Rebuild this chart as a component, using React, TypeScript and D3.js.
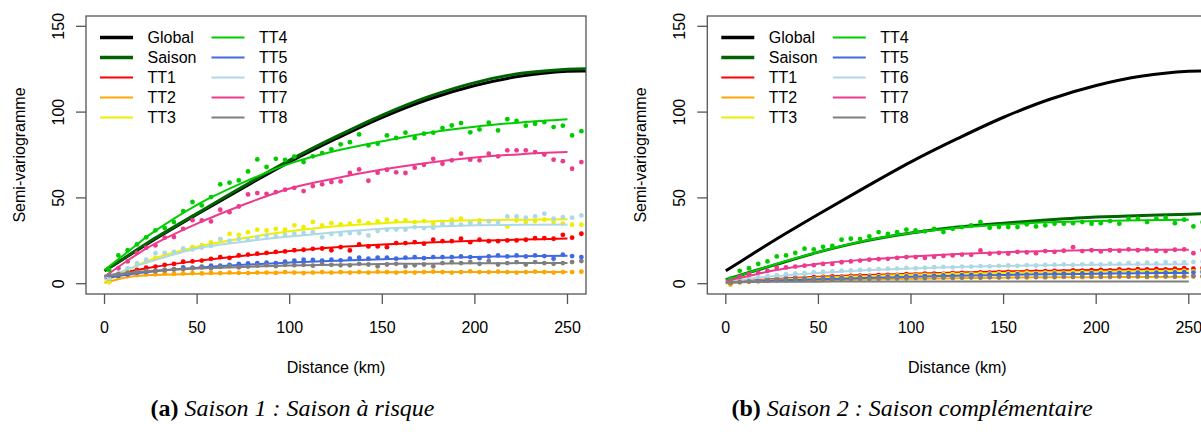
import React from 'react';
import * as d3 from 'd3';

// ---------- data ----------
const lags = [2.5, 7.5, 12.5, 17.5, 22.5, 27.5, 32.5, 37.5, 42.5, 47.5, 52.5, 57.5, 62.5, 67.5, 72.5, 77.5, 82.5, 87.5, 92.5, 97.5, 102.5, 107.5, 112.5, 117.5, 122.5, 127.5, 132.5, 137.5, 142.5, 147.5, 152.5, 157.5, 162.5, 167.5, 172.5, 177.5, 182.5, 187.5, 192.5, 197.5, 202.5, 207.5, 212.5, 217.5, 222.5, 227.5, 232.5, 237.5, 242.5, 247.5, 252.5, 257.5];
const fitX = [0, 12.5, 25, 50, 75, 100, 125, 150, 175, 200, 225, 250];
const fitXLong = [0, 12.5, 25, 50, 75, 100, 125, 150, 175, 200, 225, 250, 260];

const globalFit = [7.5, 16, 24.5, 40.5, 56, 71, 84.5, 97, 107.5, 115.5, 121, 123.8, 124];
const saisonFitA = [7.5, 16.2, 25, 41, 56.8, 72, 85.7, 98.3, 109, 117.2, 122.6, 125, 125.3];
const saisonFitB = [2.3, 6.5, 10.5, 18.4, 24.8, 29.5, 33, 35.3, 37.2, 38.8, 39.8, 40.5, 40.8];

const ttNames = ['TT1', 'TT2', 'TT3', 'TT4', 'TT5', 'TT6', 'TT7', 'TT8'];
const ttColors = ['#FF0000', '#FFA500', '#EEEE00', '#00CD00', '#4169E1', '#ADD8E6', '#EE3A8C', '#7F7F7F'];

// Panel (a) – Saison 1
const aFitTT1 = [4, 7, 9.5, 13.3, 16.3, 19, 21.2, 22.8, 24, 25, 25.7, 26.3];
const aFitTT2 = [0.5, 3.8, 5, 5.8, 6.2, 6.5, 6.6, 6.7, 6.8, 6.8, 6.8, 6.8];
const aFitTT3 = [1, 8, 14, 21.5, 26.5, 30.5, 33.5, 35.3, 36.3, 37, 37.3, 37.5];
const aFitTT4 = [8, 18.5, 29, 46, 59, 70, 77.5, 83, 88, 91.5, 94, 95.8];
const aFitTT5 = [3, 5.3, 7, 9.3, 11, 12.3, 13.4, 14.3, 15, 15.6, 16, 16.3];
const aFitTT6 = [3.5, 8.5, 13, 20.5, 24.5, 27.5, 30, 32, 33.2, 34, 34.3, 34.5];
const aFitTT7 = [4, 13.5, 22, 35, 46, 55.5, 61.5, 66.5, 70.5, 73.5, 75.5, 76.7];
const aFitTT8 = [4.8, 6.3, 7.4, 8.8, 9.8, 10.6, 11.1, 11.5, 11.7, 11.9, 12, 12];

const aPtsTT1 = [4, 5, 6.5, 8, 9.3, 10, 11, 11.5, 12.8, 13, 13.5, 14.5, 15.5, 15, 16.5, 17, 17.5, 18, 18.5, 18.8, 19.5, 19.8, 20.3, 20.5, 19.5,
  21.3, 19.4, 22.9, 21.7, 21.7, 21.3, 23.7, 23.7, 24.2, 23.3, 25.6, 24.8, 24.8, 26.2, 24.2, 25.6, 24.8, 24.8, 25.2, 25.2, 25.6, 26.6, 26.6, 26.2, 28.5, 26.8, 29.1];
const aPtsTT2 = [1, 3.5, 4.5, 5, 5.5, 5.5, 6, 5.8, 6, 6.2, 6, 6.3, 6.2, 6.5, 6.3, 6.2, 6.5, 6.5, 6.3, 6.8, 6.5, 6.2, 6.5, 6.8, 6.5, 6.8, 6.5, 6.8, 6.5, 7,
  6.8, 6.5, 6.8, 6.5, 6.8, 7, 6.8, 6.5, 6.8, 7.2, 6.8, 6.8, 7, 6.8, 6.5, 6.8, 7, 6.8, 6.5, 6.8, 6.8, 7];
const aPtsTT3 = [1, 4, 8, 11, 13, 15, 17, 18.5, 20, 21.5, 22.5, 24, 26, 29, 28.5, 30, 31.5, 31, 32, 31.5, 34, 33, 36, 34, 35.3,
  34.6, 35.0, 36.5, 35.3, 36.3, 37.3, 36.5, 36.9, 35.9, 36.5, 35.0, 35.9, 37.3, 37.9, 35.9, 36.9, 36.3, 35.9, 33.4, 36.9, 35.9, 36.5, 37.3, 35.9, 35.0, 34.4, 34.4];
const aPtsTT4 = [8, 16.5, 19.5, 22.9, 27, 31.1, 32.4, 35.9, 42.3, 47.6, 45.6, 50.5, 57.9, 58.9, 60.2, 65.4, 72.4, 68, 72.8, 72.2, 74,
  70.9, 74.2, 76.1, 78.3, 81.2, 82.5, 87.0, 80.6, 81.6, 86.4, 84.9, 88.0, 84.9, 87.4, 88.0, 90.7, 92.2, 93.6, 88.2, 89.9, 93.8, 89.3, 95.9, 94.8, 92.1, 93.2, 94.2, 91.3, 92.1, 86.4, 88.9];
const aPtsTT5 = [3, 4.5, 5.5, 6.5, 7, 7.5, 8, 8.5, 9.5, 9.3, 10, 10.5, 10.5, 11, 11.5, 11.8, 12, 12.3, 12, 12.8, 13.5, 14, 13.8, 13.5, 14,
  13.6, 14.6, 15.2, 14.6, 15.2, 15.2, 14.6, 15.2, 15.5, 14.9, 15.5, 15.5, 15.5, 15.9, 15.5, 14.9, 15.9, 16.5, 15.9, 16.5, 15.9, 16.5, 16.1, 14.6, 16.9, 16.1, 15.5];
const aPtsTT6 = [3, 6, 9, 12, 14, 17.8, 18, 18.5, 20.5, 20, 21, 22, 26, 25, 26, 25.5, 27, 28, 27.5, 28.5, 29, 29.5, 30, 27, 29,
  28.7, 29.5, 29.5, 28.1, 30.7, 31.5, 31.6, 31.5, 33.0, 32.4, 32.6, 34.6, 35.0, 34.4, 35.3, 35.0, 36.5, 35.9, 39.2, 39.2, 38.5, 39.2, 40.8, 37.9, 38.8, 38.5, 39.8];
const aPtsTT7 = [5, 9, 13, 18, 21, 22.3, 26.8, 27.2, 32, 37, 36.9, 36.3, 43.1, 41.7, 45.0, 52.0, 52.8, 52.4, 53.4,
  54.8, 55.9, 54.0, 56.9, 57.9, 59.2, 59.6, 64.5, 66.6, 60.0, 64.7, 66.4, 64.9, 64.5, 67.6, 69.3, 72.8, 69.9, 71.9, 75.8, 72.3, 71.9, 75.8, 74.2, 77.7, 77.7, 77.7, 76.7, 75.3, 72.3, 71.4, 67.0, 70.9];
const aPtsTT8 = [5, 5.5, 6.5, 7, 7.5, 7.3, 8, 8.3, 8.5, 9, 9.5, 9, 9.8, 10.2, 9.5, 10, 10.5, 10.8, 10.2, 11, 10.8, 11, 10.5, 11.5, 11,
  10.7, 10.7, 11.6, 11.2, 10.1, 11.2, 11.6, 10.1, 10.7, 11.2, 10.1, 12.0, 12.6, 12.0, 12.6, 11.6, 13.2, 11.2, 12.0, 12.6, 11.2, 12.6, 12.0, 11.6, 12.0, 12.6, 13.2];

// Panel (b) – Saison 2
const bFitTT1 = [0.5, 1.7, 2.6, 4, 5, 5.8, 6.5, 7.1, 7.6, 8, 8.3, 8.5];
const bFitTT2 = [0.2, 1, 1.5, 2, 2.5, 2.9, 3.2, 3.5, 3.7, 3.8, 3.9, 4];
const bFitTT3 = [0.3, 1.3, 2.2, 3.4, 4.4, 5.2, 5.8, 6.3, 6.7, 7, 7.3, 7.5];
const bFitTT4 = [2, 6.5, 10.8, 18.5, 25, 29.5, 32.5, 34.5, 35.8, 36.6, 37, 37.2];
const bFitTT5 = [0.5, 1.3, 1.8, 2.6, 3.3, 4, 4.6, 5.1, 5.5, 5.8, 6.1, 6.3];
const bFitTT6 = [0.8, 2.8, 4.3, 6.3, 7.8, 8.9, 9.7, 10.3, 10.7, 11, 11.2, 11.3];
const bFitTT7 = [1.5, 4.5, 7.5, 11.6, 14, 15.9, 17.3, 18.4, 19.1, 19.6, 19.8, 19.8];
const bFitTT8 = [0.8, 1, 1.1, 1.2, 1.3, 1.3, 1.3, 1.3, 1.3, 1.3, 1.3, 1.3];

const bPtsTT1 = [0.8, 1.5, 2, 2.5, 2.8, 3, 3.3, 3.5, 3.4, 3.8, 4, 4.2, 4.1, 4.5, 4.7, 4.6, 5, 5.2, 5.1, 5.5, 5.4, 5.8, 5.9, 5.7, 6.2, 6.3,
  6.1, 6.6, 6.5, 6.8, 6.9, 6.7, 7.1, 7, 7.3, 7.5, 7.2, 7.7, 7.6, 7.9, 8, 7.8, 8.3, 8.1, 8.5, 8.4, 8.6, 8.3, 8.8, 9, 8.7, 9.2];
const bPtsTT2 = [-0.5, 0.8, 1.2, 1.5, 1.7, 1.9, 2, 2.2, 2.3, 2.2, 2.5, 2.6, 2.7, 2.6, 2.9, 3, 2.9, 3.1, 3.2, 3, 3.3, 3.2, 3.4, 3.5, 3.3, 3.5,
  3.6, 3.4, 3.7, 3.6, 3.8, 3.7, 3.6, 3.9, 3.8, 3.7, 4, 3.9, 3.8, 4, 4.1, 3.9, 4, 4.2, 4, 3.9, 4.1, 4.2, 4, 4.1, 4.2, 4.1];
const bPtsTT3 = [0.5, 1.2, 1.6, 2, 2.3, 2.5, 2.8, 3, 3.2, 3.1, 3.5, 3.6, 3.8, 3.9, 4.1, 4.3, 4.3, 4.6, 4.8, 4.8, 5.1, 5.2, 5.1, 5.5, 5.6, 5.5,
  5.8, 5.9, 5.8, 6.1, 6.1, 6.3, 6.4, 6.2, 6.5, 6.6, 6.4, 6.7, 6.8, 6.6, 6.9, 6.8, 7, 6.9, 7.1, 7, 7.2, 7.1, 7.3, 7.4, 7.2, 7.5];
const bPtsTT4 = [3, 7.5, 9, 11.5, 13, 15.9, 16.5, 18, 20.4, 20, 21.5, 22, 25.6, 26.2, 26, 27.5, 30.1, 29, 30, 31.5, 31, 30.5, 32,
  30.1, 32.0, 33.0, 34.0, 35.9, 32.6, 33.0, 33.0, 33.0, 34.6, 33.4, 34.0, 35.0, 35.0, 35.3, 35.9, 35.0, 35.3, 36.5, 35.0, 37.9, 37.9, 35.9, 37.9, 38.5, 35.3, 37.3, 33.4, 35.9];
const bPtsTT5 = [0.6, 1.2, 1.6, 1.9, 2.3, 2.4, 2.6, 2.8, 3, 2.9, 3.2, 3.4, 3.5, 3.4, 3.7, 3.9, 3.8, 4.1, 4.3, 4.2, 4.5, 4.4, 4.7, 4.8, 4.6, 5,
  5.1, 4.9, 5.3, 5.2, 5.4, 5.5, 5.3, 5.7, 5.6, 5.8, 5.9, 5.7, 6, 6.1, 5.9, 6.2, 6.3, 6.1, 6.4, 6.3, 6.5, 6.4, 6.6, 6.7, 6.5, 6.8];
const bPtsTT6 = [1, 2.2, 3.2, 3.8, 4.4, 5, 5.5, 6, 6.3, 6.7, 7, 7.2, 7.6, 7.7, 8, 8.2, 8.5, 8.7, 8.8, 9.2, 9, 9.3, 9.6, 9.8, 9.5, 10,
  9.9, 10.3, 10.1, 10.4, 10.6, 10.4, 10.8, 10.6, 10.9, 11.1, 11.3, 10.9, 11.3, 11.5, 11.2, 11.7, 11.5, 12.1, 11.7, 12.2, 11.8, 12.6, 12.1, 12.5, 12.7, 12.9];
const bPtsTT7 = [1.5, 4, 5.5, 6.5, 7.5, 9.3, 9.5, 10, 10.5, 10.8, 11.5, 11.5, 12.5, 13, 13.5, 14, 14.3, 14.5, 15, 15.5, 15.5, 15, 15.7, 16.2, 16.5, 17,
  16.8, 19.4, 17.5, 18, 17.5, 18.5, 18.2, 17.8, 19, 18.5, 19.2, 21.3, 19, 19.5, 18.8, 19.5, 19.2, 20, 19.5, 20, 19.2, 19, 19.8, 20, 17.8, 19.5];
const bPtsTT8 = [0.5, 1, 1.3, 1.5, 1.8, 2, 2.1, 2.3, 2.4, 2.5, 2.7, 2.6, 2.8, 2.9, 3, 2.9, 3.1, 3.2, 3.1, 3.3, 3.4, 3.3, 3.5, 3.6, 3.4, 3.6,
  3.7, 3.6, 3.8, 3.7, 3.9, 3.8, 4, 3.9, 3.8, 4, 4.1, 4, 4.2, 4.1, 4, 4.2, 4.3, 4.1, 4.3, 4.2, 4.4, 4.3, 4.2, 4.4, 4.5, 4.4];

const xTicks = [0, 50, 100, 150, 200, 250];
const yTicks = [0, 50, 100, 150];

const panelA = {
  saison: saisonFitA,
  fits: [aFitTT1, aFitTT2, aFitTT3, aFitTT4, aFitTT5, aFitTT6, aFitTT7, aFitTT8],
  pts: [aPtsTT1, aPtsTT2, aPtsTT3, aPtsTT4, aPtsTT5, aPtsTT6, aPtsTT7, aPtsTT8],
};
const panelB = {
  saison: saisonFitB,
  fits: [bFitTT1, bFitTT2, bFitTT3, bFitTT4, bFitTT5, bFitTT6, bFitTT7, bFitTT8],
  pts: [bPtsTT1, bPtsTT2, bPtsTT3, bPtsTT4, bPtsTT5, bPtsTT6, bPtsTT7, bPtsTT8],
};

const SANS = '"Liberation Sans", Arial, sans-serif';
const SERIF = '"Liberation Serif", "Times New Roman", serif';
const BOX = '#555555';

function Panel({ left, data, id }: { left: number; data: typeof panelA; id: string }) {
  const top = 16, bottom = 294, width = 500;
  const x = d3.scaleLinear().domain([-10, 260]).range([left, left + width]);
  const y = d3.scaleLinear().domain([-6, 156]).range([bottom, top]);
  const line = d3.line<[number, number]>().x(d => x(d[0])).y(d => y(d[1])).curve(d3.curveCatmullRom.alpha(0.5));
  const zip = (xs: number[], ys: number[]) => ys.map((v, i) => [xs[i], v] as [number, number]);
  const cx = left + width / 2;
  const legendRows = [
    { name: 'Global', color: '#000000', w: 3.5 },
    { name: 'Saison', color: '#006400', w: 3.5 },
    ...ttNames.map((n, i) => ({ name: n, color: ttColors[i], w: 2 })),
  ];
  return (
    <g>
      <defs>
        <clipPath id={id}>
          <rect x={left} y={top} width={width} height={bottom - top} />
        </clipPath>
      </defs>
      <g clipPath={`url(#${id})`}>
        <path d={line(zip(fitXLong, globalFit)) || ''} fill="none" stroke="#000" strokeWidth={3} />
        <path d={line(zip(fitXLong, data.saison)) || ''} fill="none" stroke="#006400" strokeWidth={3} />
        {data.pts.map((pts, s) => (
          <g key={s}>
            {pts.map((v, i) => (
              <circle key={i} cx={x(lags[i])} cy={y(v)} r={2.4} fill={ttColors[s]} />
            ))}
            <path d={line(zip(fitX, data.fits[s])) || ''} fill="none" stroke={ttColors[s]} strokeWidth={2} />
          </g>
        ))}
      </g>
      <rect x={left} y={top} width={width} height={bottom - top} fill="none" stroke={BOX} strokeWidth={1.3} />
      {xTicks.map(t => (
        <g key={t}>
          <line x1={x(t)} x2={x(t)} y1={bottom} y2={bottom + 10} stroke={BOX} strokeWidth={1.3} />
          <text x={x(t)} y={333} textAnchor="middle" fontFamily={SANS} fontSize={16} fill="#000">{t}</text>
        </g>
      ))}
      {yTicks.map(t => (
        <g key={t}>
          <line x1={left - 10} x2={left} y1={y(t)} y2={y(t)} stroke={BOX} strokeWidth={1.3} />
          <text transform={`translate(${left - 22.5},${y(t)}) rotate(-90)`} textAnchor="middle" fontFamily={SANS} fontSize={16} fill="#000">{t}</text>
        </g>
      ))}
      <text transform={`translate(${left - 61},${(top + bottom) / 2}) rotate(-90)`} textAnchor="middle" fontFamily={SANS} fontSize={16} fill="#000">Semi-variogramme</text>
      <text x={cx} y={373} textAnchor="middle" fontFamily={SANS} fontSize={16} fill="#000">Distance (km)</text>
      {legendRows.map((r, i) => {
        const col = i < 5 ? 0 : 1;
        const row = i % 5;
        const lx = left + (col === 0 ? 14 : 125.5);
        const ly = 37.5 + row * 20;
        return (
          <g key={r.name}>
            <line x1={lx} x2={lx + 33} y1={ly} y2={ly} stroke={r.color} strokeWidth={r.w} />
            <text x={lx + 47.5} y={ly} dy="0.36em" fontFamily={SANS} fontSize={16} fill="#000">{r.name}</text>
          </g>
        );
      })}
    </g>
  );
}

export default function App() {
  return (
    <svg width={1201} height={434} viewBox="0 0 1201 434"
      style={{ position: 'absolute', left: 0, top: 0, background: '#fff', display: 'block' }}>
      <rect x={0} y={0} width={1201} height={434} fill="#fff" />
      <Panel left={86} data={panelA} id="clipA" />
      <Panel left={707.3} data={panelB} id="clipB" />
      <text x={292.5} y={416} textAnchor="middle" fontFamily={SERIF} fontSize={24} fill="#000">
        <tspan fontWeight="bold">(a)</tspan>
        <tspan fontStyle="italic"> Saison 1 : Saison à risque</tspan>
      </text>
      <text x={912} y={416} textAnchor="middle" fontFamily={SERIF} fontSize={24} fill="#000">
        <tspan fontWeight="bold">(b)</tspan>
        <tspan fontStyle="italic"> Saison 2 : Saison complémentaire</tspan>
      </text>
    </svg>
  );
}
